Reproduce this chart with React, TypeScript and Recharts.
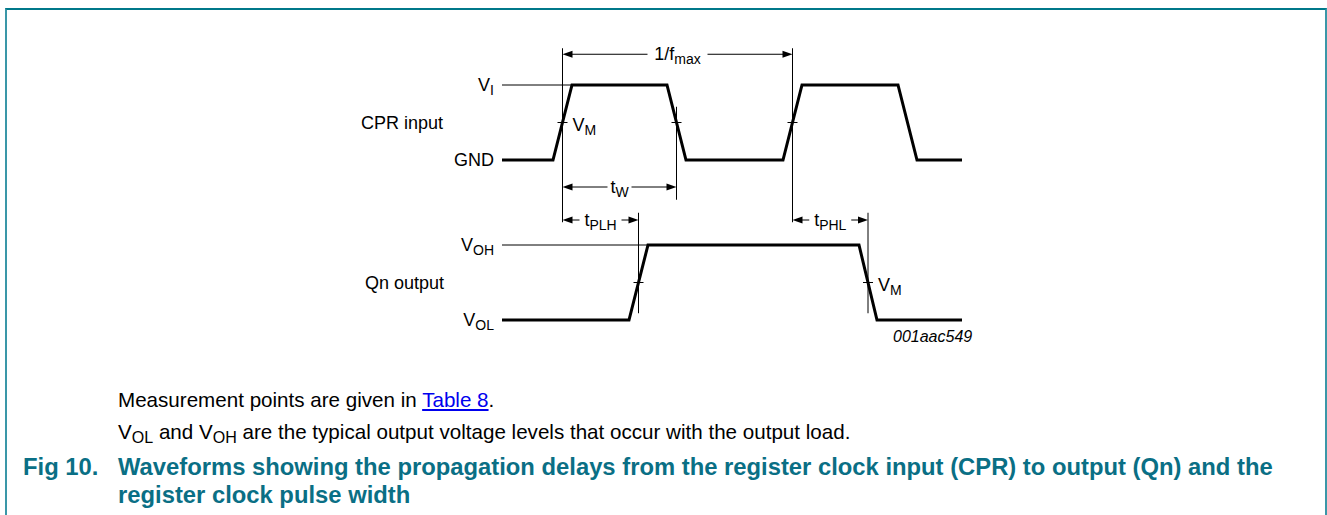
import React from 'react';
import { ComposedChart, Line, XAxis, YAxis, ReferenceLine, ReferenceDot } from 'recharts';

// CPR input (register clock): time in arbitrary units, level 0 = GND, 1 = V_I
const cprTime = [0, 5.1, 7.0, 16.5, 18.4, 28.1, 30.0, 39.6, 41.5, 46];
const cprLevel = [0, 0, 1, 1, 0, 0, 1, 1, 0, 0];
// Qn output: level 0 = V_OL, 1 = V_OH
const qnTime = [0, 12.7, 14.6, 35.7, 37.5, 46];
const qnLevel = [0, 0, 1, 1, 0, 0];

const VM = 0.5; // measurement level, half swing

const cprData = cprTime.map((t, i) => ({ t, level: cprLevel[i] }));
const qnData = qnTime.map((t, i) => ({ t, level: qnLevel[i] }));

// time where each edge passes V_M
function crossings(time: number[], level: number[]) {
  const out: number[] = [];
  for (let i = 0; i < time.length - 1; i++) {
    const a = level[i];
    const b = level[i + 1];
    if (a !== b) out.push(time[i] + ((VM - a) / (b - a)) * (time[i + 1] - time[i]));
  }
  return out;
}
const cprEdges = crossings(cprTime, cprLevel); // rise, fall, rise, fall
const qnEdges = crossings(qnTime, qnLevel); // rise, fall
const cprHighStart = cprTime[cprLevel.indexOf(1)];
const qnHighStart = qnTime[qnLevel.indexOf(1)];

const FONT = '"Liberation Sans", Arial, Helvetica, sans-serif';
const TEAL = '#0a6f85';

// layout: plot box and one level unit in px
const TOP = 10;
const H = 375;
const UNIT = 75;
const domainFor = (lowPx: number) => [(lowPx - TOP - H) / UNIT, (lowPx - TOP) / UNIT];
const cprDomain = domainFor(160);
const qnDomain = domainFor(320);

// rows of the dimension arrows (cpr level units)
const FMAX_ROW = 1.41;
const TW_ROW = -0.36;
const TP_ROW = -0.8;

const sub = (s: string) => (
  <tspan dy={5} fontSize={14}>
    {s}
  </tspan>
);

const dimShape = (main: string, subText: string, gap: number) => (p: any) => {
  const left = Math.min(p.x1, p.x2);
  const right = Math.max(p.x1, p.x2);
  const y = p.y1;
  const mid = (left + right) / 2;
  return (
    <g>
      <line x1={left + 8} x2={mid - gap / 2} y1={y} y2={y} stroke="#000" strokeWidth={1} />
      <line x1={mid + gap / 2} x2={right - 8} y1={y} y2={y} stroke="#000" strokeWidth={1} />
      <polygon points={`${left},${y} ${left + 10},${y - 3.5} ${left + 10},${y + 3.5}`} fill="#000" />
      <polygon points={`${right},${y} ${right - 10},${y - 3.5} ${right - 10},${y + 3.5}`} fill="#000" />
      <text x={mid} y={y} textAnchor="middle" dominantBaseline="central" fontSize={18} fontFamily={FONT}>
        {main}
        {sub(subText)}
      </text>
    </g>
  );
};

const sideLabel = (main: string, subText: string, dx: number) => (p: any) => (
  <text x={p.cx - dx} y={p.cy} textAnchor="end" dominantBaseline="central" fontSize={18} fontFamily={FONT}>
    {main}
    {subText ? sub(subText) : null}
  </text>
);

const vmTick = (withLabel: boolean) => (p: any) => (
  <g>
    <line x1={p.cx - 5} x2={p.cx + 5} y1={p.cy} y2={p.cy} stroke="#000" strokeWidth={1} />
    {withLabel ? (
      <text x={p.cx + 10} y={p.cy + 2} dominantBaseline="central" fontSize={18} fontFamily={FONT}>
        V{sub('M')}
      </text>
    ) : null}
  </g>
);

const thin = { stroke: '#000', strokeWidth: 1, ifOverflow: 'visible' as const };
const subStyle = { fontSize: '0.78em', verticalAlign: '-0.25em', lineHeight: 0 };

export default function App() {
  return (
    <div
      style={{
        position: 'absolute',
        left: 0,
        top: 0,
        width: 1327,
        height: 515,
        background: '#fff',
        overflow: 'hidden',
        fontFamily: FONT,
      }}
    >
      <div
        style={{
          position: 'absolute',
          left: 5,
          top: 8,
          width: 1322,
          height: 520,
          boxSizing: 'border-box',
          borderTop: `2px solid #00788a`,
          borderLeft: `2px solid #3a97a8`,
          borderRight: `2px solid #3a97a8`,
        }}
      />
      <div style={{ position: 'absolute', left: 0, top: TOP }}>
        <ComposedChart width={1327} height={H} margin={{ top: 0, right: 365, bottom: 0, left: 502 }}>
          <XAxis dataKey="t" type="number" domain={[0, 46]} hide allowDataOverflow />
          <YAxis yAxisId="cpr" type="number" domain={cprDomain} hide allowDataOverflow />
          <YAxis yAxisId="qn" type="number" domain={qnDomain} hide allowDataOverflow />

          {/* reference levels */}
          <ReferenceLine yAxisId="cpr" segment={[{ x: 0, y: 1 }, { x: cprHighStart, y: 1 }]} {...thin} />
          <ReferenceLine yAxisId="qn" segment={[{ x: 0, y: 1 }, { x: qnHighStart, y: 1 }]} {...thin} />

          {/* measurement verticals */}
          <ReferenceLine yAxisId="cpr" segment={[{ x: cprEdges[0], y: 1.49 }, { x: cprEdges[0], y: -0.83 }]} {...thin} />
          <ReferenceLine yAxisId="cpr" segment={[{ x: cprEdges[2], y: 1.49 }, { x: cprEdges[2], y: -0.83 }]} {...thin} />
          <ReferenceLine yAxisId="cpr" segment={[{ x: cprEdges[1], y: 0.71 }, { x: cprEdges[1], y: -0.53 }]} {...thin} />
          <ReferenceLine yAxisId="qn" segment={[{ x: qnEdges[0], y: 1.43 }, { x: qnEdges[0], y: 0.09 }]} {...thin} />
          <ReferenceLine yAxisId="qn" segment={[{ x: qnEdges[1], y: 1.43 }, { x: qnEdges[1], y: 0.09 }]} {...thin} />

          {/* dimension arrows */}
          <ReferenceLine
            yAxisId="cpr"
            segment={[{ x: cprEdges[0], y: FMAX_ROW }, { x: cprEdges[2], y: FMAX_ROW }]}
            ifOverflow="visible"
            shape={dimShape('1/f', 'max', 60)}
          />
          <ReferenceLine
            yAxisId="cpr"
            segment={[{ x: cprEdges[0], y: TW_ROW }, { x: cprEdges[1], y: TW_ROW }]}
            ifOverflow="visible"
            shape={dimShape('t', 'W', 24)}
          />
          <ReferenceLine
            yAxisId="cpr"
            segment={[{ x: cprEdges[0], y: TP_ROW }, { x: qnEdges[0], y: TP_ROW }]}
            ifOverflow="visible"
            shape={dimShape('t', 'PLH', 42)}
          />
          <ReferenceLine
            yAxisId="cpr"
            segment={[{ x: cprEdges[2], y: TP_ROW }, { x: qnEdges[1], y: TP_ROW }]}
            ifOverflow="visible"
            shape={dimShape('t', 'PHL', 42)}
          />

          <Line
            data={cprData}
            dataKey="level"
            yAxisId="cpr"
            type="linear"
            stroke="#000"
            strokeWidth={3}
            strokeLinejoin="miter"
            dot={false}
            activeDot={false}
            isAnimationActive={false}
          />
          <Line
            data={qnData}
            dataKey="level"
            yAxisId="qn"
            type="linear"
            stroke="#000"
            strokeWidth={3}
            strokeLinejoin="miter"
            dot={false}
            activeDot={false}
            isAnimationActive={false}
          />

          {/* V_M ticks */}
          <ReferenceDot yAxisId="cpr" x={cprEdges[0]} y={VM} ifOverflow="visible" shape={vmTick(true)} />
          <ReferenceDot yAxisId="cpr" x={cprEdges[1]} y={VM} ifOverflow="visible" shape={vmTick(false)} />
          <ReferenceDot yAxisId="cpr" x={cprEdges[2]} y={VM} ifOverflow="visible" shape={vmTick(false)} />
          <ReferenceDot yAxisId="qn" x={qnEdges[0]} y={VM} ifOverflow="visible" shape={vmTick(false)} />
          <ReferenceDot yAxisId="qn" x={qnEdges[1]} y={VM} ifOverflow="visible" shape={vmTick(true)} />

          {/* left-hand labels */}
          <ReferenceDot yAxisId="cpr" x={0} y={1} ifOverflow="visible" shape={sideLabel('V', 'I', 8)} />
          <ReferenceDot yAxisId="cpr" x={0} y={0} ifOverflow="visible" shape={sideLabel('GND', '', 8)} />
          <ReferenceDot yAxisId="cpr" x={0} y={VM} ifOverflow="visible" shape={sideLabel('CPR input', '', 59)} />
          <ReferenceDot yAxisId="qn" x={0} y={1} ifOverflow="visible" shape={sideLabel('V', 'OH', 8)} />
          <ReferenceDot yAxisId="qn" x={0} y={0} ifOverflow="visible" shape={sideLabel('V', 'OL', 8)} />
          <ReferenceDot yAxisId="qn" x={0} y={VM} ifOverflow="visible" shape={sideLabel('Qn output', '', 58)} />
        </ComposedChart>
      </div>

      <div style={{ position: 'absolute', left: 893, top: 328, fontSize: 16, fontStyle: 'italic', lineHeight: 'normal' }}>
        001aac549
      </div>

      <div style={{ position: 'absolute', left: 118, top: 388, fontSize: 20.6, lineHeight: 'normal', whiteSpace: 'nowrap' }}>
        Measurement points are given in{' '}
        <span style={{ color: '#0000ee', textDecoration: 'underline' }}>Table 8</span>.
      </div>
      <div style={{ position: 'absolute', left: 118, top: 420, fontSize: 20.6, lineHeight: 'normal', whiteSpace: 'nowrap' }}>
        V<sub style={subStyle}>OL</sub> and V<sub style={subStyle}>OH</sub> are the typical output voltage levels that
        occur with the output load.
      </div>

      <div
        style={{
          position: 'absolute',
          left: 23,
          top: 453,
          fontSize: 23.8,
          fontWeight: 'bold',
          color: TEAL,
          lineHeight: '28px',
          whiteSpace: 'nowrap',
        }}
      >
        Fig 10.
      </div>
      <div
        style={{
          position: 'absolute',
          left: 118,
          top: 453,
          fontSize: 23.8,
          fontWeight: 'bold',
          color: TEAL,
          lineHeight: '28px',
          whiteSpace: 'nowrap',
        }}
      >
        Waveforms showing the propagation delays from the register clock input (CPR) to output (Qn) and the
        <br />
        register clock pulse width
      </div>
    </div>
  );
}
